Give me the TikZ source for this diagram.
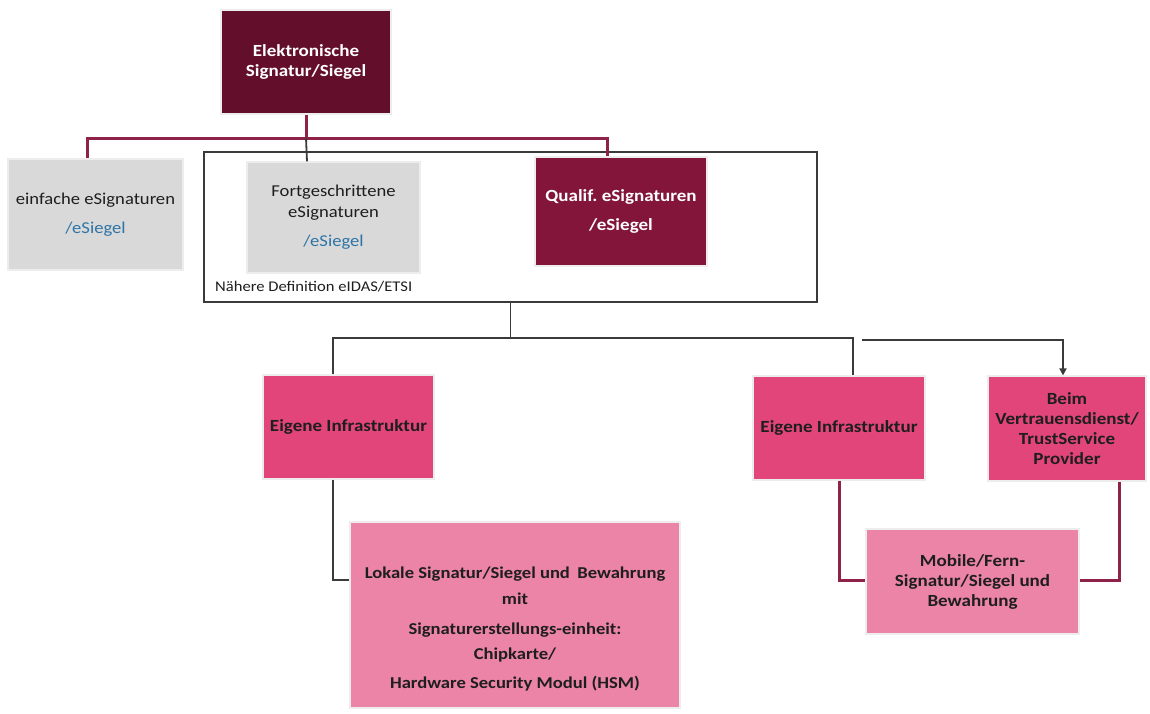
\documentclass[tikz,border=0pt]{standalone}
\usepackage{fontspec}
\setmainfont{Carlito}[FakeStretch=1.12]
\usetikzlibrary{calc,arrows.meta}

\definecolor{darkwine}{HTML}{630F2B}
\definecolor{wine}{HTML}{821539}
\definecolor{wineline}{HTML}{8E2249}
\definecolor{boxgray}{HTML}{D9D9D9}
\definecolor{rosedark}{HTML}{E2457A}
\definecolor{roselight}{HTML}{EC84A7}
\definecolor{linkblue}{HTML}{2E74A6}
\definecolor{linegray}{HTML}{3A3A3A}
\definecolor{textdark}{HTML}{1E1E1E}

\tikzset{
  card/.style={rectangle, draw=black!7, line width=1.2pt, inner sep=0pt, align=center},
  winecard/.style={card, fill=#1, text=white, font=\fontsize{17}{20}\selectfont\bfseries},
  graycard/.style={card, fill=boxgray, text=textdark, font=\fontsize{16.6}{21}\selectfont},
  rosecard/.style={card, fill=#1, text=textdark, font=\fontsize{17}{20}\selectfont\bfseries},
  rosetext/.style={align=center, inner sep=0pt, text=textdark, font=\fontsize{16.6}{20}\selectfont\bfseries},
  wirewine/.style={draw=wineline, line width=3pt, line join=miter},
  wiregray/.style={draw=linegray, line width=1.8pt, line join=miter},
  framebox/.style={rectangle, draw=linegray, line width=1.6pt, inner sep=0pt}
}

\begin{document}
\frenchspacing
\begin{tikzpicture}[x=1pt, y=-1pt]
\useasboundingbox (0,0) rectangle (1150,713);

% eIDAS/ETSI frame around the advanced and qualified levels
\node[framebox, minimum width=613pt, minimum height=150pt] (frame) at (510.5,227) {};
\node[anchor=west, font=\fontsize{14.8}{17}\selectfont, text=textdark, inner sep=0pt] (framelabel) at (215,287) {Nähere Definition eIDAS/ETSI};

% top level
\node[winecard=darkwine, minimum width=170pt, minimum height=104pt] (top) at (306,62)
  {Elektronische\\Signatur/Siegel};

% signature levels
\node[graycard, minimum width=175pt, minimum height=111pt] (simple) at (95.5,214.5)
  {einfache eSignaturen\\[8pt]\textcolor{linkblue}{/eSiegel}};
\node[graycard, minimum width=173pt, minimum height=111pt] (adv) at (333.5,217.5)
  {Fortgeschrittene\\eSignaturen\\[8pt]\textcolor{linkblue}{/eSiegel}};
\node[winecard=wine, minimum width=172pt, minimum height=109pt] (qual) at (621,211.5)
  {Qualif. eSignaturen\\[9pt]/eSiegel};

% infrastructure variants
\node[rosecard=rosedark, minimum width=171pt, minimum height=104pt] (own1) at (348.5,427)
  {Eigene Infrastruktur};
\node[rosecard=rosedark, minimum width=172pt, minimum height=104pt] (own2) at (839,428)
  {Eigene Infrastruktur};
\node[rosecard=rosedark, minimum width=158pt, minimum height=105pt] (tsp) at (1067,428.5)
  {Beim\\Vertrauensdienst/\\TrustService\\Provider};

% realisations
\node[card, fill=roselight, minimum width=330pt, minimum height=186pt] (local) at (515,615) {};
\node[rosetext] (localtext) at (515,629)
  {Lokale Signatur/Siegel und\hspace{0.45em}Bewahrung\\[6pt]mit\\[10pt]Signaturerstellungs-einheit:\\[5pt]Chipkarte/\\[9pt]Hardware Security Modul (HSM)};
\node[rosecard=roselight, minimum width=213pt, minimum height=105pt] (remote) at (972.5,581.5)
  {Mobile/Fern-\\Signatur/Siegel und\\Bewahrung};

% junction points of the tree
\coordinate (bus) at (306,138);
\coordinate (split) at (510.5,338);
\coordinate (arrowstart) at (862,340);

% top level to the three signature levels
\draw[wirewine] (top.south) -- (bus);
\draw[wirewine] ([xshift=-8.5pt]simple.north) |- (bus) -| ([xshift=-14pt]qual.north);
\draw[wiregray] (bus) -- ([xshift=-26.5pt]adv.north);

% frame to the infrastructure variants
\draw[wiregray] (frame.south) -- (split);
\draw[wiregray] ([xshift=-15.5pt]own1.north) |- (split) -| ([xshift=14pt]own2.north);
\draw[wiregray, -{Triangle[length=7pt, width=7pt]}] (arrowstart) -| ([xshift=-4pt]tsp.north);

% infrastructure variants to realisations
\draw[wiregray] ([xshift=-15.5pt]own1.south) |- ([yshift=35pt]local.west);
\draw[wirewine] (own2.south) |- ([yshift=1.5pt]remote.west);
\draw[wirewine] ([xshift=52pt]tsp.south) |- ([yshift=1.5pt]remote.east);
\end{tikzpicture}
\end{document}
